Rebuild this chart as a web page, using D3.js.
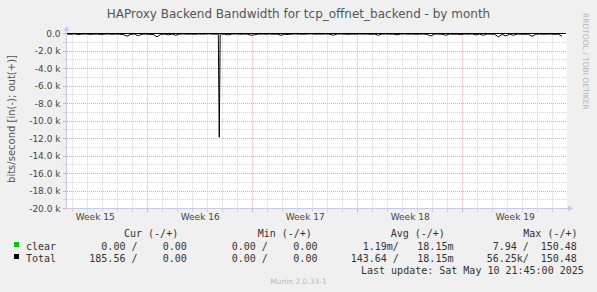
<!DOCTYPE html>
<html>
<head>
<meta charset="utf-8">
<script src="https://cdn.jsdelivr.net/npm/d3@7/dist/d3.min.js"></script>
<style>
body{margin:0;background:#F0F0F0;}
text{white-space:pre;}
</style>
</head>
<body>
<svg id="chart" width="597" height="292"></svg>
<script>

// ---- data ----
var title = "HAProxy Backend Bandwidth for tcp_offnet_backend - by month";
var yTicks = [0, -2000, -4000, -6000, -8000, -10000, -12000, -14000, -16000, -18000, -20000];

// Total "in" bits/second, one sample every 6 hours from 2025-04-08 15:00 (plotted negative)
var sampleStart = "2025-04-08T15:00:00Z";
var totalIn = [
  60, 90, 40,120, 70, 50,100, 80, 60,110,
  70, 50, 90, 60, 80,120,300, 90, 60,250,
  80, 60,100,120,380, 90, 70,150, 60,200,
  70, 50, 80, 60, 90, 50, 70, 60, 40, 80,
  60, 40, 90,150, 60, 50, 80, 70, 60,200,
 150, 70, 60, 80, 50, 90, 60,200, 80,120,
  60, 50, 70, 90, 60, 40, 80, 60, 70, 50,
  80,200, 60, 50, 70, 90, 60, 80, 50, 70,
  60, 90, 70,200, 60, 50, 80, 70,150, 60,
  50, 80, 60, 90, 70, 60,100,280, 70, 60,
  80,200, 60, 90, 70,120, 60, 80, 50,150,
  70,200, 60, 80, 90,380,100,280, 70,200,
  60, 80, 90, 70,330, 80, 60, 90, 70, 60,
 100, 70,330
];
// the single spike on Apr 18
var spikeIn = [
  ["2025-04-18T17:00:00Z", 80],
  ["2025-04-18T18:30:00Z", 11850],
  ["2025-04-18T20:00:00Z", 80]
];
// "out" is only milli-bits, sits on the zero line
var totalOut = [["2025-04-08T15:00:00Z", 0.02], ["2025-05-11T21:00:00Z", 0.02]];
var clearIn  = [["2025-04-08T15:00:00Z", 0.001], ["2025-05-11T21:00:00Z", 0.001]];
var clearOut = [["2025-04-08T15:00:00Z", 0.02], ["2025-05-11T21:00:00Z", 0.02]];

var legendNames = ["clear", "Total"];
var legendColors = ["#00CC00", "#000000"];
var legendHeads = ["Cur (-/+)", "Min (-/+)", "Avg (-/+)", "Max (-/+)"];
// [in, out] per stat: cur, min, avg, max
var clearStats = [[0, 0], [0, 0], [0.00119, 0.01815], [7.94, 150.48]];
var totalStats = [[185.56, 0], [0, 0], [143.64, 0.01815], [56250, 150.48]];
var lastUpdate = "Last update: Sat May 10 21:45:00 2025";
var version = "Munin 2.0.33-1";

// ---- layout ----
var W = 597, H = 292;
var plotL = 66.7, plotR = 566.7, plotT = 33.5, plotB = 208.5;
var svg = d3.select("#chart");
svg.append("rect").attr("width", W).attr("height", H).attr("fill", "#F0F0F0");

var x = d3.scaleUtc()
    .domain([new Date("2025-04-08T14:24:00Z"), new Date("2025-05-11T22:24:00Z")])
    .range([plotL, plotR]);
var y = d3.scaleLinear().domain([-20000, 0]).range([plotB, plotT]);

function crisp(v){ return Math.round(v - 0.5) + 0.5; }

svg.append("rect")
    .attr("x", 67).attr("y", 33)
    .attr("width", 500).attr("height", 176)
    .attr("fill", "#FFFFFF");

var grid = svg.append("g");
var minorCol = "#D2D2D2", majorCol = "#F2A4A4";

// horizontal grid
d3.range(-20000, 1, 1000).forEach(function(v){
    var yy = crisp(y(v));
    var col = (v % 2000 === 0) ? majorCol : minorCol;
    if (v !== 0 && v !== -20000) {
        grid.append("line")
            .attr("x1", 67).attr("x2", 567).attr("y1", yy).attr("y2", yy)
            .attr("stroke", col).attr("stroke-dasharray", "1,1");
    }
    grid.append("line")
        .attr("x1", 63).attr("x2", 66).attr("y1", yy).attr("y2", yy)
        .attr("stroke", col);
});

// vertical grid: days and weeks
var x0 = x.domain()[0], x1 = x.domain()[1];
d3.utcDay.range(d3.utcDay.ceil(x0), x1).forEach(function(d){
    var xx = crisp(x(d));
    var col = d.getUTCDay() === 1 ? majorCol : minorCol;
    grid.append("line")
        .attr("x1", xx).attr("x2", xx).attr("y1", plotT).attr("y2", plotB)
        .attr("stroke", col).attr("stroke-dasharray", "1,1");
    grid.append("line")
        .attr("x1", xx).attr("x2", xx).attr("y1", 209).attr("y2", 212)
        .attr("stroke", col);
});

// ---- series ----
var t0 = new Date(sampleStart).getTime();
var inPts = totalIn.map(function(v, i){ return [new Date(t0 + i * 6 * 3600 * 1000), v]; });
spikeIn.forEach(function(p){ inPts.push([new Date(p[0]), p[1]]); });
inPts.sort(function(a, b){ return a[0] - b[0]; });

var negLine = d3.line().x(function(d){ return x(d[0]); }).y(function(d){ return y(-d[1]); });
var posLine = d3.line().x(function(d){ return x(d[0]); }).y(function(d){ return y(d[1]); });
function parsed(arr){ return arr.map(function(p){ return [new Date(p[0]), p[1]]; }); }

svg.append("path").attr("d", negLine(parsed(clearIn)))
    .attr("fill", "none").attr("stroke", legendColors[0]).attr("stroke-width", 1);
svg.append("path").attr("d", posLine(parsed(clearOut)))
    .attr("fill", "none").attr("stroke", legendColors[0]).attr("stroke-width", 1);
svg.append("path").attr("d", negLine(inPts))
    .attr("fill", "none").attr("stroke", legendColors[1]).attr("stroke-width", 1);
svg.append("path").attr("d", posLine(parsed(totalOut)))
    .attr("fill", "none").attr("stroke", legendColors[1]).attr("stroke-width", 1);

// ---- axes ----
var axisCol = "#C6C9F2";
svg.append("line").attr("x1", 66.5).attr("x2", 66.5).attr("y1", 209).attr("y2", 30)
    .attr("stroke", axisCol);
svg.append("path").attr("d", "M63.5,31L69.5,31L66.5,26Z").attr("fill", axisCol);
svg.append("line").attr("x1", 66).attr("x2", 569).attr("y1", 208.5).attr("y2", 208.5)
    .attr("stroke", axisCol);
svg.append("path").attr("d", "M568,205.5L568,211.5L573,208.5Z").attr("fill", axisCol);

// y labels
yTicks.forEach(function(v){
    svg.append("text")
        .attr("x", 60.5).attr("y", y(v) + 3)
        .attr("text-anchor", "end")
        .style("font-family", "DejaVu Sans").style("font-size", "9px")
        .attr("fill", "#444")
        .text(v === 0 ? "0.0" : (v / 1000).toFixed(1) + " k");
});

// week labels centred on each week
d3.utcMonday.range(d3.utcMonday.floor(x0), x1).forEach(function(m){
    var mid = new Date(m.getTime() + 3.5 * 86400000);
    if (mid < x0 || mid > x1) return;
    svg.append("text")
        .attr("x", x(mid)).attr("y", 220)
        .attr("text-anchor", "middle")
        .style("font-family", "DejaVu Sans").style("font-size", "9px")
        .attr("fill", "#444")
        .text("Week " + d3.utcFormat("%V")(m));
});

// titles
svg.append("text")
    .attr("x", 298.5).attr("y", 18)
    .attr("text-anchor", "middle")
    .style("font-family", "DejaVu Sans").style("font-size", "12px")
    .attr("fill", "#555")
    .text(title);

svg.append("text")
    .attr("transform", "translate(15,119) rotate(-90)")
    .attr("text-anchor", "middle")
    .style("font-family", "DejaVu Sans").style("font-size", "10px")
    .attr("fill", "#555")
    .text("bits/second [in(-); out(+)]");

svg.append("text")
    .attr("transform", "translate(582.5,13) rotate(90)")
    .style("font-family", "DejaVu Sans").style("font-size", "7.5px")
    .attr("fill", "#B4B4B4")
    .text("RRDTOOL / TOBI OETIKER");

// ---- legend ----
function fmt(v){
    var s = v, p = " ";
    if (v !== 0 && Math.abs(v) >= 1000) { s = v / 1000; p = "k"; }
    else if (v !== 0 && Math.abs(v) < 1) { s = v * 1000; p = "m"; }
    var t = s.toFixed(2);
    while (t.length < 6) t = " " + t;
    return t + p;
}
var mono = "DejaVu Sans Mono";
var headX = [124, 257.7, 390.7, 523.3];
var inX = [89.3, 219.7, 350.7, 480.7];
var outX = [150.7, 281.3, 411.3, 540.7];

legendHeads.forEach(function(h, i){
    svg.append("text").attr("x", headX[i]).attr("y", 237)
        .style("font-family", mono).style("font-size", "10px")
        .attr("fill", "#333").text(h);
});

[clearStats, totalStats].forEach(function(stats, r){
    var by = 249.5 + r * 12;
    svg.append("rect").attr("x", 14).attr("y", by - 7.5)
        .attr("width", 5).attr("height", 5)
        .attr("fill", legendColors[r]);
    svg.append("text").attr("x", 26).attr("y", by)
        .style("font-family", mono).style("font-size", "10px")
        .attr("fill", "#333").text(legendNames[r]);
    stats.forEach(function(s, i){
        svg.append("text").attr("x", inX[i]).attr("y", by)
            .attr("xml:space", "preserve")
            .style("font-family", mono).style("font-size", "10px")
            .attr("fill", "#333").text(fmt(s[0]) + "/");
        svg.append("text").attr("x", outX[i]).attr("y", by)
            .attr("xml:space", "preserve")
            .style("font-family", mono).style("font-size", "10px")
            .attr("fill", "#333").text(fmt(s[1]));
    });
});

svg.append("text").attr("x", 361).attr("y", 273.5)
    .style("font-family", mono).style("font-size", "10px")
    .attr("fill", "#333").text(lastUpdate);

svg.append("text").attr("x", 298.5).attr("y", 283.5)
    .attr("text-anchor", "middle")
    .style("font-family", "DejaVu Sans").style("font-size", "7.5px")
    .attr("fill", "#BBBBBB").text(version);

</script>
</body>
</html>
